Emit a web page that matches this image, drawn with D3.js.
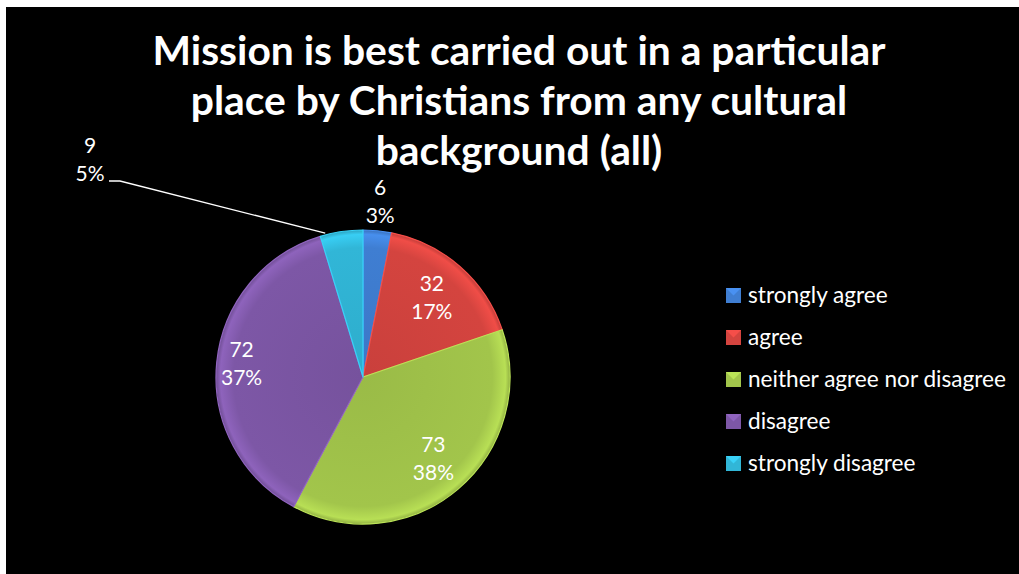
<!DOCTYPE html>
<html><head><meta charset="utf-8">
<script src="https://cdn.jsdelivr.net/npm/d3@7"></script>
<style>html,body{margin:0;padding:0;background:#fff;}svg{display:block;}</style>
</head><body>
<svg id="chart" width="1019" height="574"></svg>
<script>
const titleLines = ["Mission is best carried out in a particular", "place by Christians from any cultural", "background (all)"];
const categories = ["strongly agree", "agree", "neither agree nor disagree", "disagree", "strongly disagree"];
const values = [6, 32, 73, 72, 9];
const percentLabels = ["3%", "17%", "38%", "37%", "5%"];
const colors = ["#3F7ED2", "#D4443F", "#A2C54B", "#7D57A6", "#31B6D7"];

const W = 1019, H = 574;
const svg = d3.select("#chart");
const font = "Lato, 'Open Sans', sans-serif";

svg.append("rect").attr("x", 6).attr("y", 7).attr("width", W - 6).attr("height", H - 7).attr("fill", "#000");

// title
svg.append("g").selectAll("text").data(titleLines).join("text")
  .attr("x", 519).attr("y", (d, i) => 65 + i * 50)
  .attr("text-anchor", "middle").attr("fill", "#fff")
  .attr("font-family", font).attr("font-weight", "bold").attr("font-size", 40.8)
  .text(d => d);

const cx = 363, cy = 377, r = 147;
const g = svg.append("g").attr("transform", `translate(${cx},${cy})`);
const pie = d3.pie().sort(null).value(d => d.v);
const data = pie(values.map((v, i) => ({v, i})));
const arc = d3.arc().innerRadius(0).outerRadius(r);

const defs = svg.append("defs");
colors.forEach((c, i) => {
  const gr = defs.append("radialGradient").attr("id", "grad" + i)
    .attr("gradientUnits", "userSpaceOnUse").attr("cx", 0).attr("cy", 0).attr("r", r);
  gr.append("stop").attr("offset", "0%").attr("stop-color", d3.color(c).darker(0.15));
  gr.append("stop").attr("offset", "88%").attr("stop-color", c);
  gr.append("stop").attr("offset", "97%").attr("stop-color", d3.color(c).brighter(0.35));
  gr.append("stop").attr("offset", "100%").attr("stop-color", d3.color(c).darker(0.3));
});

g.selectAll("path").data(data).join("path")
  .attr("d", arc)
  .attr("fill", d => `url(#grad${d.index})`)
  .attr("stroke", d => d3.color(colors[d.index]).brighter(0.4))
  .attr("stroke-width", 1.2)
  .attr("stroke-linejoin", "round");

// labels
const labelRadiusFactor = [1.19, 0.71, 0.74, 0.83, null];
const lblFont = 21;
data.forEach(d => {
  let x, y;
  if (labelRadiusFactor[d.index] != null) {
    const la = d3.arc().innerRadius(r * labelRadiusFactor[d.index]).outerRadius(r * labelRadiusFactor[d.index]);
    [x, y] = la.centroid(d);
    x += cx; y += cy;
  } else {
    x = 90; y = 161;
    const pa = d3.arc().innerRadius(r * 1.01).outerRadius(r * 1.01);
    const [px, py] = pa.centroid(d);
    svg.append("path")
      .attr("d", d3.line()([[109, 181], [120, 181], [cx + px - 16, cy + py + 3]]))
      .attr("fill", "none").attr("stroke", "#fff").attr("stroke-width", 1.3);
  }
  const t = svg.append("text").attr("x", x).attr("text-anchor", "middle")
    .attr("fill", "#fff").attr("font-family", font).attr("font-size", lblFont);
  t.append("tspan").attr("x", x).attr("y", y - 8).text(values[d.index]);
  t.append("tspan").attr("x", x).attr("y", y + 20).text(percentLabels[d.index]);
});

// legend
const lg = svg.append("g").attr("transform", "translate(726,296)");
const rows = lg.selectAll("g").data(categories).join("g")
  .attr("transform", (d, i) => `translate(0,${i * 42})`);
rows.append("rect").attr("x", 0).attr("y", -8).attr("width", 15).attr("height", 15)
  .attr("fill", (d, i) => colors[i]);
rows.append("path").attr("d", "M0,-8 L7.5,-0.5 L15,-8 Z")
  .attr("fill", (d, i) => d3.color(colors[i]).brighter(0.4));
rows.append("text").attr("x", 22).attr("y", 7).attr("fill", "#fff")
  .attr("font-family", font).attr("font-size", 22.6).text(d => d);
</script>
</body></html>
